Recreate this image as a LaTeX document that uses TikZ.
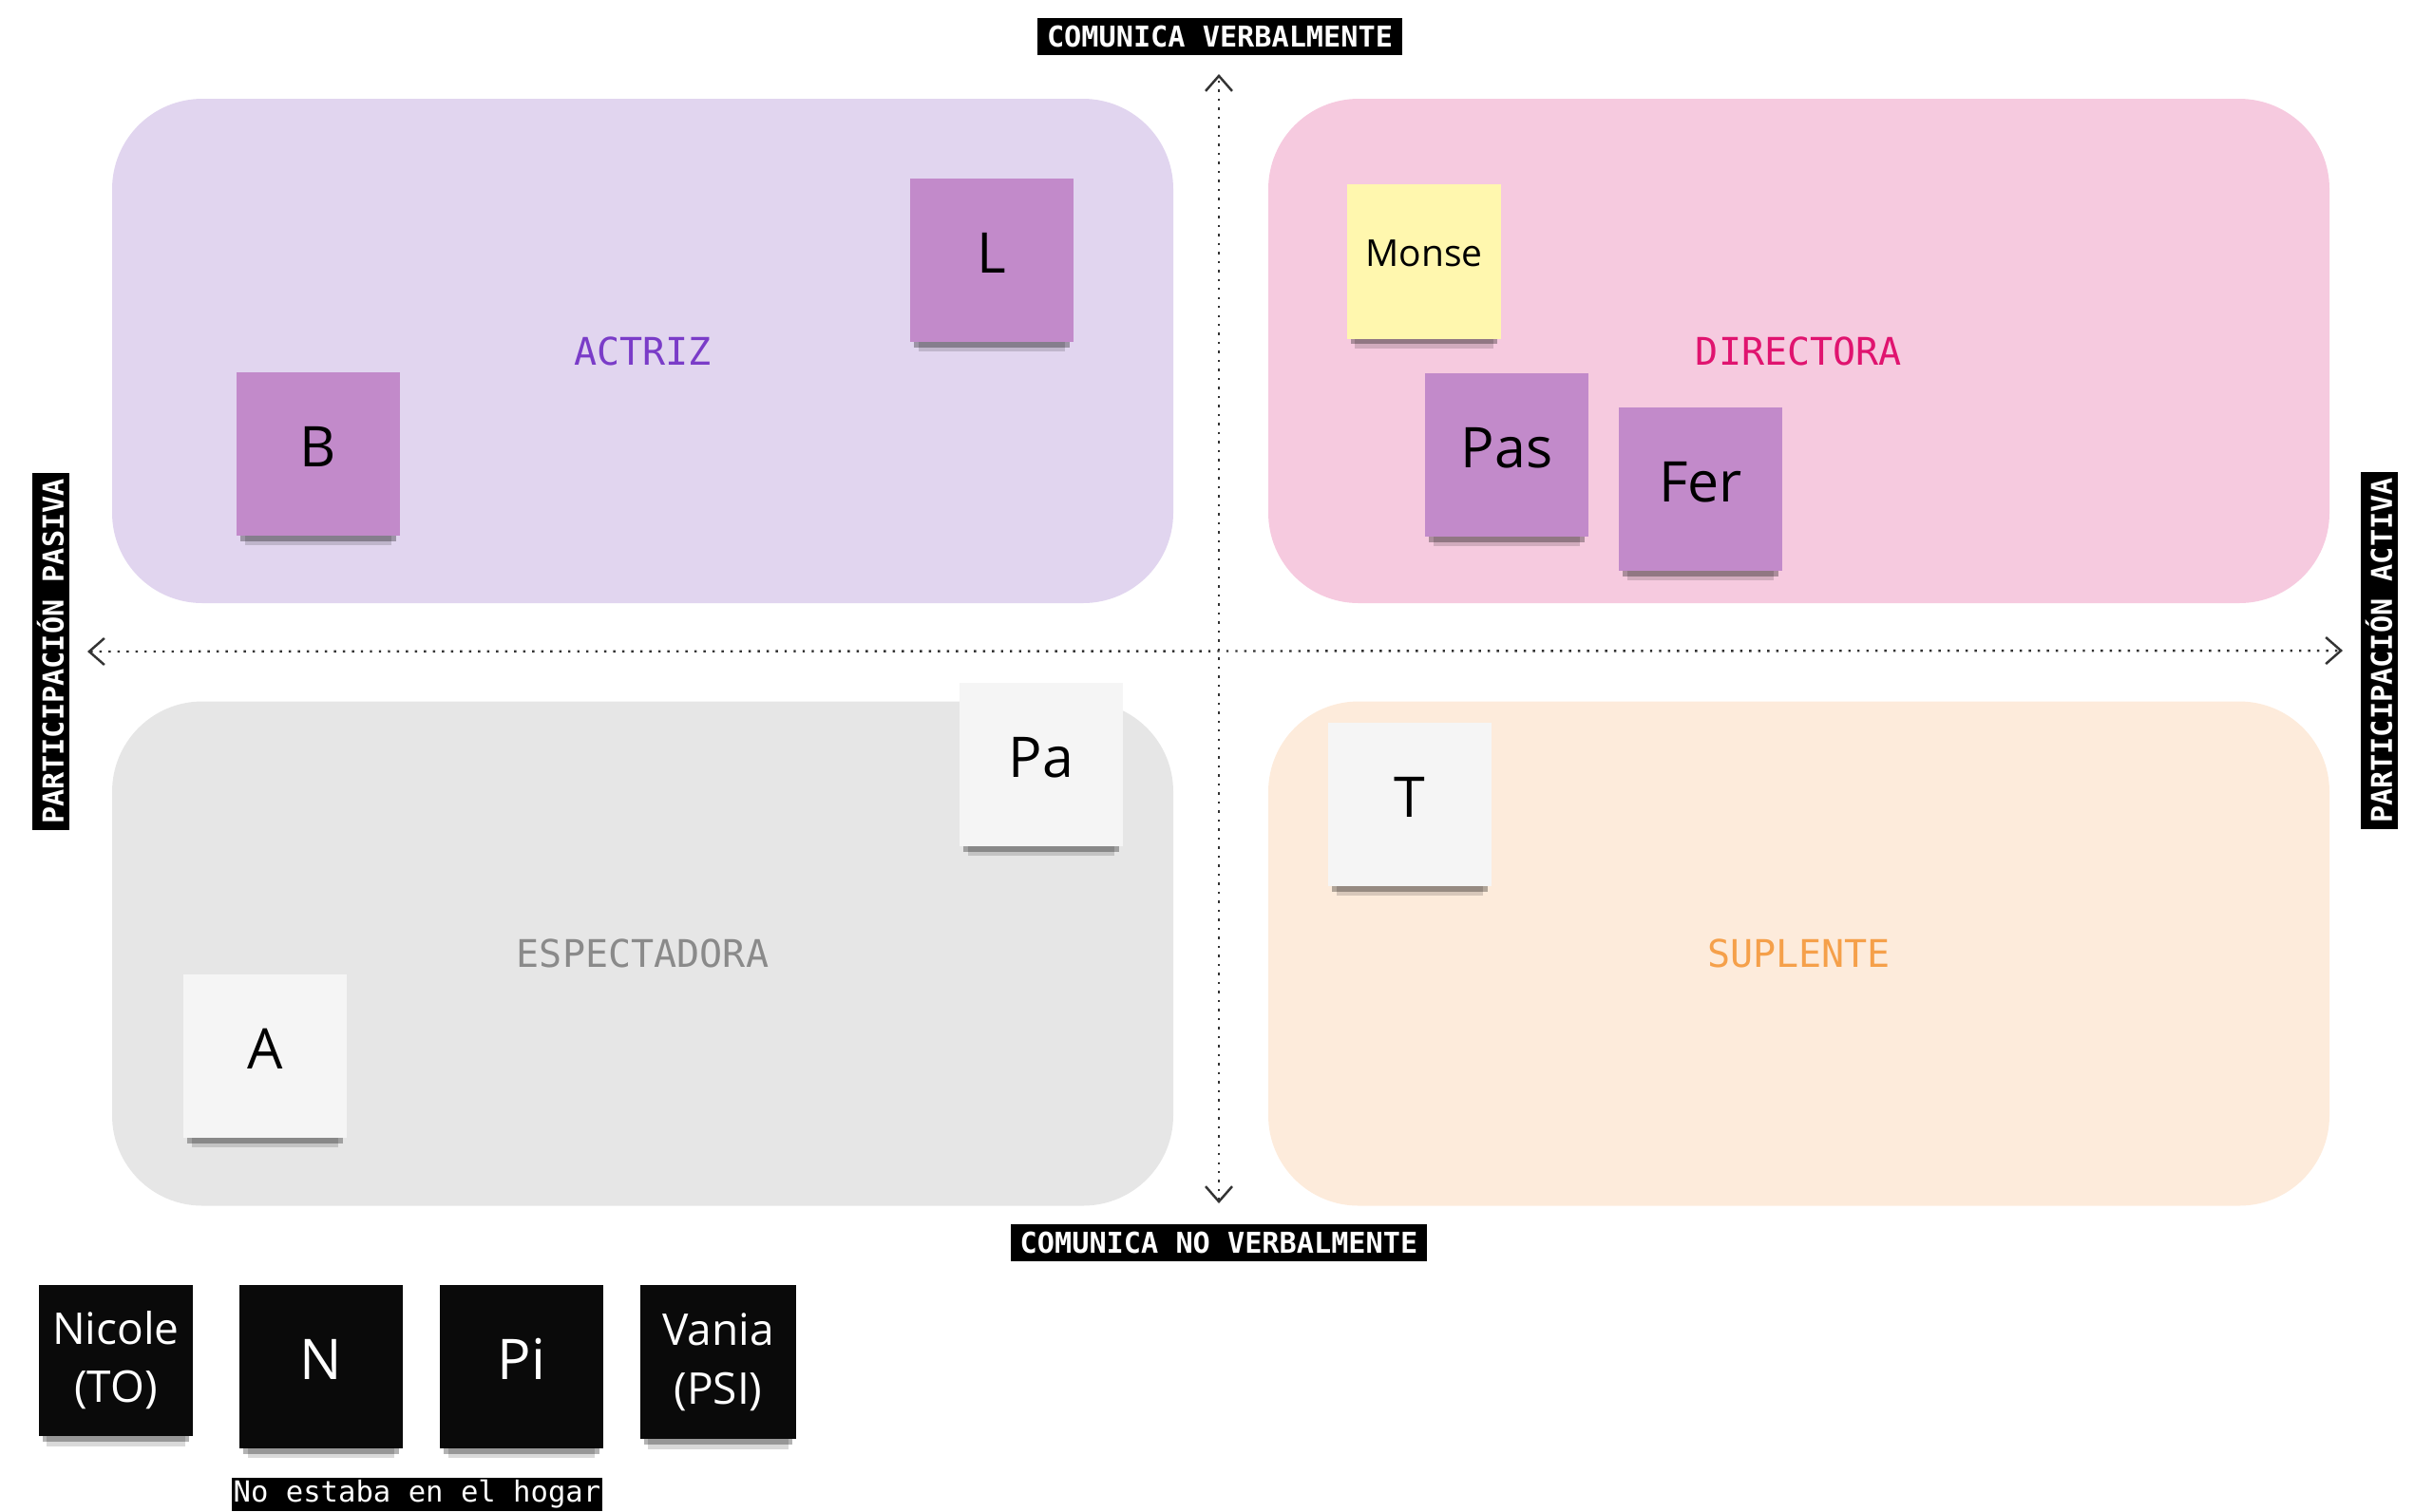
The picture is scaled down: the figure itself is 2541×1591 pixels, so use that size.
\documentclass[tikz,border=0pt]{standalone}
\usepackage{fontspec}
\setmainfont{Open Sans}
\setmonofont{DejaVu Sans Mono}
\usetikzlibrary{arrows.meta,shadows}
\definecolor{actrizBg}{HTML}{E1D5EF}
\definecolor{actrizText}{HTML}{7A3CC8}
\definecolor{directoraBg}{HTML}{F6CADF}
\definecolor{directoraText}{HTML}{E0136F}
\definecolor{espectBg}{HTML}{E6E6E6}
\definecolor{espectText}{HTML}{8A8A8A}
\definecolor{suplenteBg}{HTML}{FDEBDB}
\definecolor{suplenteText}{HTML}{F5A04A}
\definecolor{notePurple}{HTML}{C28ACA}
\definecolor{noteYellow}{HTML}{FFF7AE}
\definecolor{noteWhite}{HTML}{F5F5F5}
\definecolor{noteBlack}{HTML}{0A0A0A}

\begin{document}
\begin{tikzpicture}[
      x=0.1mm, y=-0.1mm,
      quadrant/.style={
        rectangle, rounded corners=9.5mm, minimum width=111.7mm, minimum height=53.1mm,
        font=\ttfamily\fontsize{11.4pt}{13pt}\selectfont
      },
      sticky/.style={
        rectangle, minimum width=17.2mm, minimum height=17.2mm, align=center, text depth=1.6mm,
        font=\fontsize{16.8pt}{20pt}\selectfont,
        drop shadow={shadow xshift=0pt, shadow yshift=-6pt, shadow scale=0.9, opacity=0.15, fill=black},
        drop shadow={shadow xshift=0pt, shadow yshift=-3pt, shadow scale=0.95, opacity=0.3, fill=black}
      },
      smallnote/.style={text depth=, font=\fontsize{13.1pt}{17.5pt}\selectfont},
      axislabel/.style={
        rectangle, fill=black, text=white, inner xsep=1mm, inner ysep=0pt, minimum height=3.9mm,
        font=\ttfamily\bfseries\fontsize{8.6pt}{10pt}\selectfont
      },
      axisarr/.style={{Straight Barb[length=1.6mm, width=2.8mm]}-{Straight Barb[length=1.6mm, width=2.8mm]},
        dotted, line width=0.7pt, draw=black!80}
    ]
      \useasboundingbox (0,0) rectangle (2541,1591);

      % quadrants
      \node[quadrant, fill=actrizBg, text=actrizText] (actriz) at (676.5,369.5) {ACTRIZ};
      \node[quadrant, fill=directoraBg, text=directoraText] (directora) at (1893.5,369.5) {DIRECTORA};
      \node[quadrant, fill=espectBg, text=espectText] (espect) at (676.5,1004) {ESPECTADORA};
      \node[quadrant, fill=suplenteBg, text=suplenteText] (suplente) at (1893.5,1004) {SUPLENTE};

      % axes
      \coordinate (vtop) at (1283,78);
      \coordinate (vbot) at (1283,1267);
      \coordinate (hleft) at (92,686);
      \coordinate (hright) at (2466,685);
      \draw[axisarr] (vbot) -- (vtop);
      \draw[axisarr] (hleft) -- (hright);

      \node[axislabel] (verbal) at (1284,38) {COMUNICA VERBALMENTE};
      \node[axislabel] (noverbal) at (1283,1308) {COMUNICA NO VERBALMENTE};
      \node[axislabel, rotate=90, inner xsep=0.6mm] (pasiva) at (53,686) {PARTICIPACIÓN PASIVA};
      \node[axislabel, rotate=90, inner xsep=0.6mm] (activa) at (2504,685) {PARTICIPACIÓN ACTIVA};

      % sticky notes
      \node[sticky, fill=notePurple] (l) at (1044,274) {L};
      \node[sticky, fill=notePurple] (b) at (335,478) {B};
      \node[sticky, fill=noteYellow, minimum width=16.2mm, minimum height=16.3mm,
        font=\fontsize{11.1pt}{13pt}\selectfont] (monse) at (1499,275) {Monse};
      \node[sticky, fill=notePurple] (pas) at (1586,479) {Pas};
      \node[sticky, fill=notePurple] (fer) at (1790,515) {Fer};
      \node[sticky, fill=noteWhite] (pa) at (1096,805) {Pa};
      \node[sticky, fill=noteWhite] (t) at (1484,847) {T};
      \node[sticky, fill=noteWhite] (a) at (279,1112) {A};

      \node[sticky, smallnote, fill=noteBlack, text=white, minimum width=16.2mm, minimum height=15.9mm] (nicole) at (122,1432) {Nicole\\(TO)};
      \node[sticky, fill=noteBlack, text=white] (n) at (338,1439) {N};
      \node[sticky, fill=noteBlack, text=white] (pi) at (549,1439) {Pi};
      \node[sticky, smallnote, fill=noteBlack, text=white, minimum width=16.4mm, minimum height=16.2mm] (vania) at (756,1434) {Vania\\(PSI)};

      \node[axislabel, font=\ttfamily\fontsize{8.7pt}{10pt}\selectfont, inner xsep=0.2mm, minimum height=3.5mm] (hogar) at (439,1573) {No estaba en el hogar};
    \end{tikzpicture}
\end{document}
